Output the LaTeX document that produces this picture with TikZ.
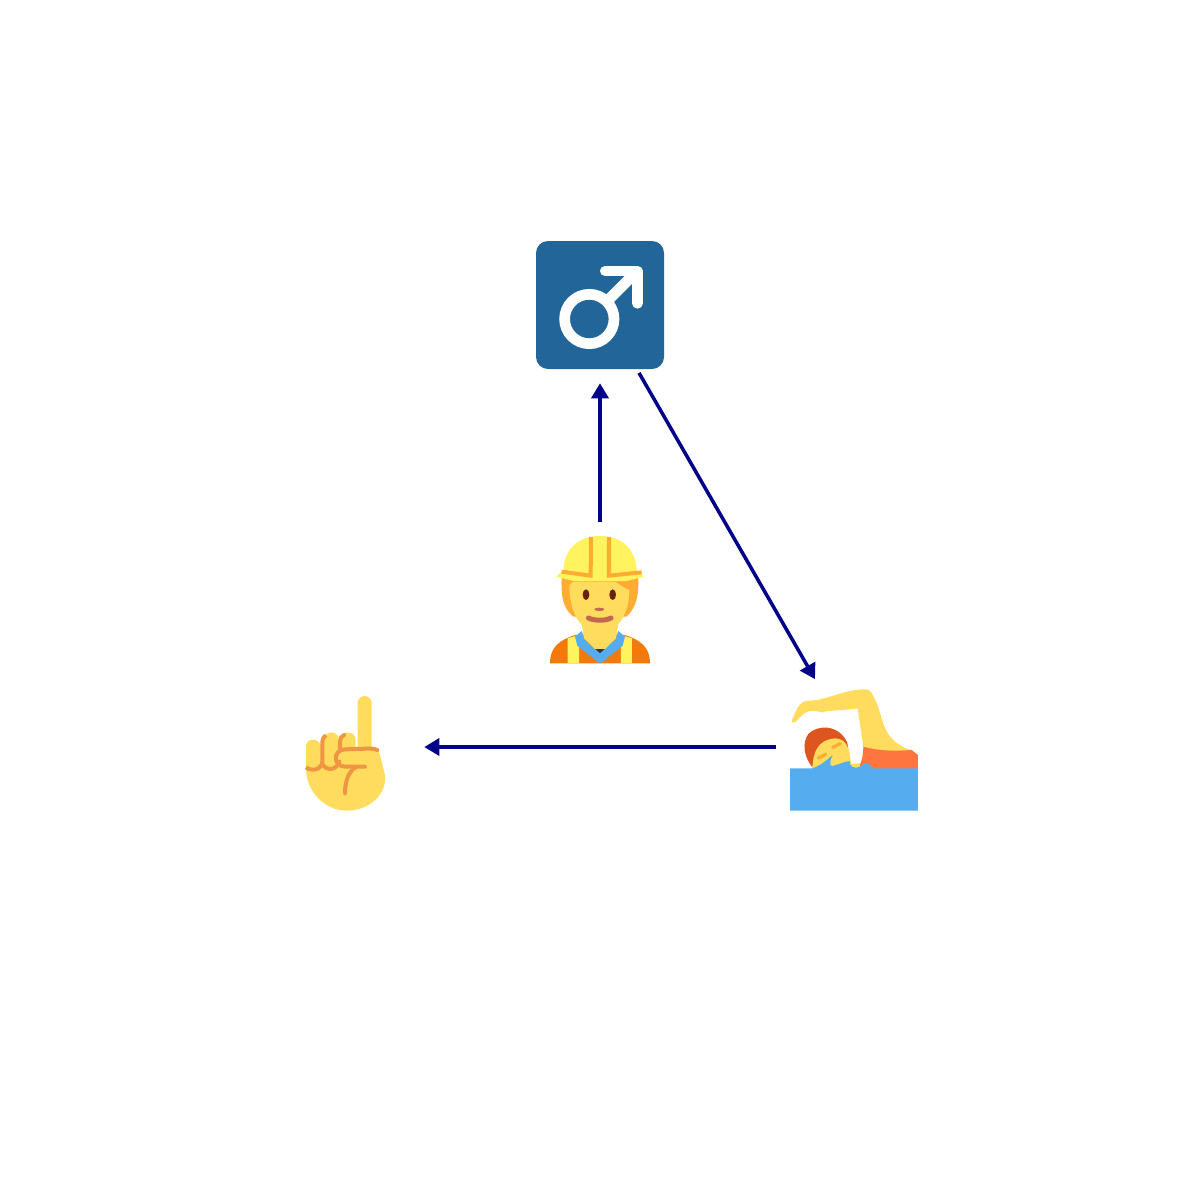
\documentclass[tikz,border=0pt]{standalone}
\usepackage{tikz}
\usepackage{xcolor}
\usetikzlibrary{arrows.meta}
\definecolor{flowblue}{HTML}{00008B}
\definecolor{skin}{HTML}{FFDC5D}
\definecolor{skinline}{HTML}{EF9645}
\definecolor{hairorange}{HTML}{FFAC33}
\definecolor{vestorange}{HTML}{F4790B}
\definecolor{hatyellow}{HTML}{FFF45F}
\definecolor{waterblue}{HTML}{55ACEE}
\definecolor{signblue}{HTML}{226699}
\definecolor{mouthbrown}{HTML}{C1694F}
\definecolor{eyebrown}{HTML}{662113}
\definecolor{suitred}{HTML}{FF7540}
\definecolor{caporange}{HTML}{DD551F}
\tikzset{
  emoji/.style={circle, minimum size=1.565cm, inner sep=0pt, outer sep=0pt},
  flow/.style={draw=flowblue, line width=0.035cm, -{Triangle[length=0.15cm, width=0.17cm]}},
  pics/malesign/.style={code={
    \fill[signblue, rounded corners=0.12cm] (-64,-64) rectangle (64,64);
    \draw[white, line width=0.107cm] (-10.7,14) circle (24.7);
    \draw[white, line width=0.107cm, line cap=round, line join=round]
      (5.3,-34) -- (37.3,-34) -- (37.3,-1.7);
    \draw[white, line width=0.107cm] (37.3,-34) -- (6.8,-3.5);
  }},
  pics/workerman/.style={code={
    \begin{scope}[shift={(-70,-75)}, scale=0.3333]
      % body
      \fill[vestorange] (60,415) .. controls (60,365) and (90,345) .. (135,330)
        -- (285,330) .. controls (330,345) and (360,365) .. (360,415) -- cycle;
      \fill[hatyellow] (113,340) -- (147,330) -- (147,415) -- (113,415) -- cycle;
      \fill[hatyellow] (273,330) -- (306,340) -- (306,415) -- (273,415) -- cycle;
      \fill[black!80] (195,365) rectangle (225,398);
      \fill[waterblue] (135,335) -- (155,318) -- (165,345) -- (210,385) -- (255,345)
        -- (265,318) -- (285,335) -- (278,362) -- (210,416) -- (142,362) -- cycle;
      \fill[skin] (155,295) -- (265,295) -- (258,340) -- (225,372) -- (195,372) -- (162,340) -- cycle;
      % head
      \fill[hairorange] (95,150) -- (325,150) .. controls (328,220) and (315,250) .. (290,275)
        -- (130,275) .. controls (100,250) and (92,220) .. (95,150) -- cycle;
      \fill[skin] (118,180) .. controls (118,260) and (150,322) .. (208,322)
        .. controls (268,322) and (298,260) .. (298,195)
        .. controls (285,190) and (270,180) .. (255,170) -- (130,170) -- cycle;
      \fill[eyebrown] (168,209) ellipse (10 and 16);
      \fill[eyebrown] (248,209) ellipse (10 and 16);
      \fill[mouthbrown] (208,253) ellipse (15 and 5);
      \draw[mouthbrown, line width=0.05cm, line cap=round]
        (175,279) .. controls (195,288) and (225,288) .. (243,279);
      % helmet
      \fill[hatyellow] (100,135) .. controls (105,65) and (150,33) .. (210,33)
        .. controls (270,33) and (315,65) .. (320,135) -- (342,155) -- (290,168)
        -- (130,168) -- (78,155) -- cycle;
      \draw[hairorange, line width=0.04cm]
        (95,140) -- (182,152) -- (183,36);
      \draw[hairorange, line width=0.04cm]
        (237,36) -- (237,152) -- (335,142);
    \end{scope}
  }},
  pics/swimmer/.style={code={
    \begin{scope}[shift={(-74,-87)}, scale=0.3333]
      % suit and cap
      \fill[suitred] (250,255) -- (395,270) -- (414,285) -- (414,330) -- (235,330)
        -- (238,318) .. controls (245,305) and (250,285) .. (250,255) -- cycle;
      \fill[caporange] (97,322) .. controls (72,290) and (65,250) .. (85,222)
        .. controls (110,195) and (175,190) .. (202,248) -- (212,320) -- cycle;
      \fill[skin] (97,322) .. controls (100,280) and (110,240) .. (165,235)
        .. controls (200,235) and (212,270) .. (212,315) -- cycle;
      \draw[hairorange, line width=0.033cm, line cap=round] (115,294) -- (137,283);
      \draw[hairorange, line width=0.033cm, line cap=round] (158,262) -- (181,251);
      % arm
      \fill[skin] (36,180) .. controls (50,150) and (55,125) .. (85,122)
        .. controls (140,122) and (190,88) .. (255,88)
        .. controls (268,88) and (274,95) .. (278,105)
        .. controls (315,165) and (295,235) .. (390,270)
        .. controls (330,275) and (290,270) .. (250,260)
        -- (233,145)
        .. controls (190,152) and (150,150) .. (125,157)
        .. controls (95,150) and (80,145) .. (48,185)
        .. controls (40,190) and (34,188) .. (36,180) -- cycle;
      \fill[skin] (212,312) -- (240,310) -- (240,325) -- (212,325) -- cycle;
      % water
      \fill[waterblue] (30,325) -- (97,325) .. controls (125,315) and (140,300) .. (158,285)
        .. controls (150,300) and (148,315) .. (155,318)
        .. controls (175,315) and (190,305) .. (210,303)
        .. controls (205,320) and (225,328) .. (240,320)
        .. controls (250,305) and (275,310) .. (278,325)
        -- (414,325) -- (414,452) -- (30,452) -- cycle;
    \end{scope}
  }},
  pics/pointer/.style={code={
    \begin{scope}[shift={(-56,-57)}, scale=0.3333]
      \fill[skin, rounded corners=0.07cm] (203,18) rectangle (245,200);
      \fill[skin] (48,170) .. controls (48,142) and (90,142) .. (92,170)
        .. controls (92,120) and (145,115) .. (147,150)
        .. controls (150,120) and (197,120) .. (197,150)
        -- (197,180) -- (266,180) -- (285,255)
        .. controls (292,310) and (240,362) .. (170,362)
        .. controls (105,362) and (48,305) .. (48,235) -- cycle;
      \draw[skinline, line width=0.04cm]
        (48,232) .. controls (65,245) and (95,240) .. (97,215) -- (97,155)
        .. controls (97,145) and (102,140) .. (108,136);
      \draw[skinline, line width=0.04cm, line cap=round]
        (97,222) .. controls (110,245) and (140,240) .. (148,215);
      \draw[skinline, line width=0.04cm, line cap=round]
        (150,180) -- (150,155) .. controls (150,145) and (155,138) .. (162,135);
      \draw[skinline, line width=0.04cm, line cap=round]
        (262,180) .. controls (250,175) and (240,176) .. (230,176) -- (165,178)
        .. controls (128,180) and (128,228) .. (165,230) -- (225,230);
      \draw[skinline, line width=0.04cm, line cap=round]
        (197,232) .. controls (175,245) and (165,275) .. (165,310);
    \end{scope}
  }},
}
\begin{document}
\begin{tikzpicture}[x=0.01cm, y=-0.01cm]
  \useasboundingbox (0,0) rectangle (1200,1200);
  \node[emoji] (male) at (600,305) {};
  \node[emoji] (worker) at (600,600) {};
  \node[emoji] (swim) at (854,747) {};
  \node[emoji] (finger) at (346,747) {};
  \pic at (male) {malesign};
  \pic at (worker) {workerman};
  \pic at (swim) {swimmer};
  \pic at (finger) {pointer};
  \draw[flow] (worker) -- (male);
  \draw[flow] (male) -- (swim);
  \draw[flow] (swim) -- (finger);
\end{tikzpicture}
\end{document}
